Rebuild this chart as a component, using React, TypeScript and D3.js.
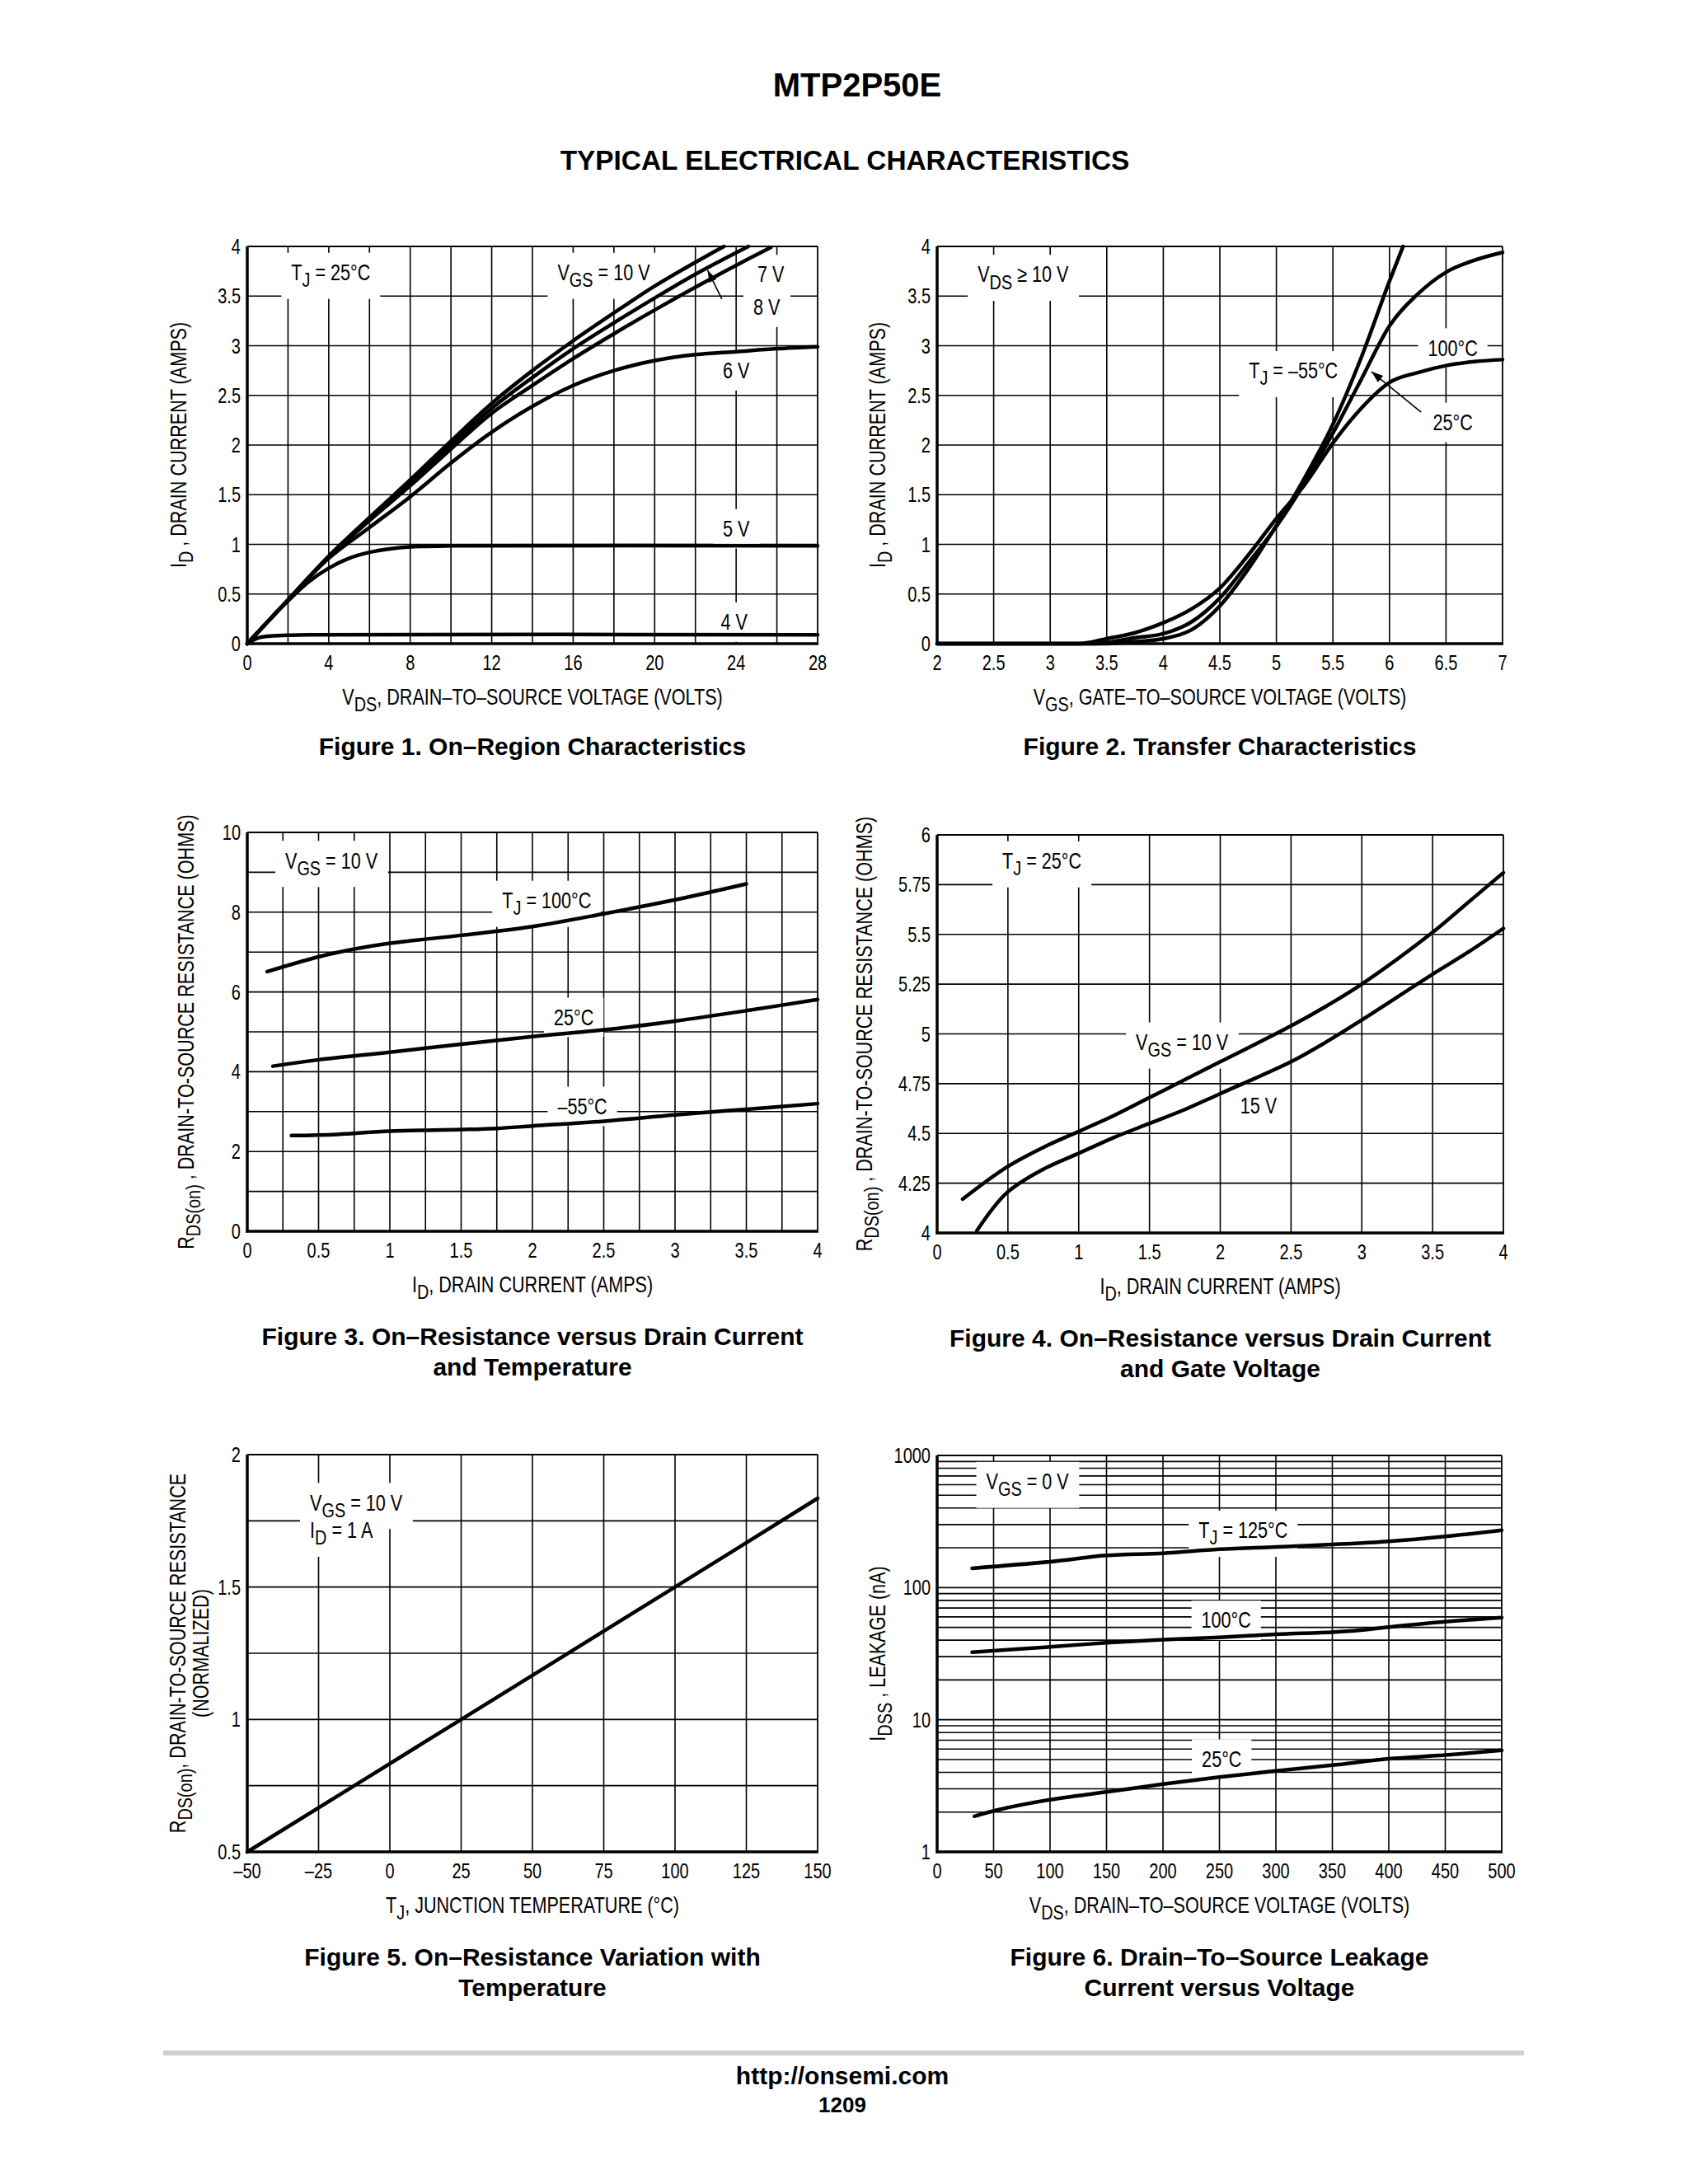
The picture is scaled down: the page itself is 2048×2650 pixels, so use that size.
import React, { useLayoutEffect, useRef, useState } from 'react';
import * as d3 from 'd3';

type Pt = [number, number];

const SANS = "'Liberation Sans', Arial, Helvetica, sans-serif";
const SX = 0.8; // squeeze the sans to look like the condensed datasheet face

// ---------- Figure 1: on-region characteristics
const f1XTicks = [0, 4, 8, 12, 16, 20, 24, 28];
const f1YTicks = [0, 0.5, 1, 1.5, 2, 2.5, 3, 3.5, 4];
const f1Vgs10: Pt[] = [[0, 0], [2, 0.44], [4, 0.88], [6, 1.27], [8, 1.65], [10, 2.04], [12, 2.42], [14, 2.75], [16, 3.05], [18, 3.33], [20, 3.6], [22, 3.84], [23.4, 4.0]];
const f1Vgs8: Pt[] = [[0, 0], [2, 0.44], [4, 0.88], [6, 1.26], [8, 1.62], [10, 2.0], [12, 2.37], [14, 2.68], [16, 2.97], [18, 3.23], [20, 3.48], [22, 3.72], [24.6, 4.0]];
const f1Vgs7: Pt[] = [[0, 0], [2, 0.44], [4, 0.87], [6, 1.24], [8, 1.59], [10, 1.96], [12, 2.32], [14, 2.6], [16, 2.87], [18, 3.12], [20, 3.36], [22, 3.59], [24, 3.81], [25.7, 3.99]];
const f1Vgs6: Pt[] = [[0, 0], [2, 0.44], [4, 0.86], [6, 1.17], [8, 1.48], [10, 1.82], [12, 2.13], [14, 2.39], [16, 2.6], [18, 2.75], [20, 2.85], [22, 2.91], [24, 2.94], [26, 2.97], [28, 2.99]];
const f1Vgs5: Pt[] = [[0, 0], [1, 0.22], [2, 0.43], [3, 0.62], [4, 0.76], [5, 0.86], [6, 0.92], [7, 0.955], [8, 0.975], [10, 0.985], [28, 0.985]];
const f1Vgs4: Pt[] = [[0, 0], [0.5, 0.055], [1, 0.075], [2, 0.085], [3, 0.09], [28, 0.09]];

// ---------- Figure 2: transfer characteristics
const f2XTicks = [2, 2.5, 3, 3.5, 4, 4.5, 5, 5.5, 6, 6.5, 7];
const f2YTicks = [0, 0.5, 1, 1.5, 2, 2.5, 3, 3.5, 4];
const f2Tm55: Pt[] = [[2, 0], [3.5, 0], [3.75, 0.02], [4, 0.05], [4.25, 0.14], [4.5, 0.38], [4.75, 0.75], [5, 1.19], [5.25, 1.67], [5.5, 2.21], [5.75, 2.88], [6, 3.65], [6.12, 4.0]];
const f2T25: Pt[] = [[2, 0], [3.4, 0], [3.75, 0.06], [4, 0.1], [4.25, 0.22], [4.5, 0.46], [4.75, 0.81], [5, 1.18], [5.25, 1.62], [5.5, 2.12], [5.75, 2.66], [6, 3.2], [6.25, 3.52], [6.5, 3.74], [6.75, 3.86], [7, 3.94]];
const f2T100: Pt[] = [[2, 0], [3.25, 0], [3.5, 0.05], [3.75, 0.11], [4, 0.21], [4.25, 0.35], [4.5, 0.56], [4.75, 0.89], [5, 1.26], [5.25, 1.6], [5.5, 2.02], [5.75, 2.37], [6, 2.63], [6.25, 2.73], [6.5, 2.8], [6.75, 2.84], [7, 2.86]];

// ---------- Figure 3: on-resistance vs drain current and temperature
const f3XTicks = [0, 0.5, 1, 1.5, 2, 2.5, 3, 3.5, 4];
const f3YTicks = [0, 2, 4, 6, 8, 10];
const f3T100: Pt[] = [[0.14, 6.51], [0.5, 6.88], [0.76, 7.08], [1, 7.22], [1.5, 7.42], [2, 7.64], [2.5, 7.96], [3, 8.31], [3.5, 8.71]];
const f3T25: Pt[] = [[0.18, 4.14], [0.5, 4.3], [1, 4.49], [1.5, 4.69], [2, 4.88], [2.5, 5.05], [3, 5.27], [3.5, 5.53], [4, 5.81]];
const f3Tm55: Pt[] = [[0.31, 2.4], [0.63, 2.43], [1, 2.51], [1.5, 2.55], [1.75, 2.58], [2, 2.64], [2.5, 2.76], [3, 2.92], [3.5, 3.06], [4, 3.2]];

// ---------- Figure 4: on-resistance vs drain current and gate voltage
const f4XTicks = [0, 0.5, 1, 1.5, 2, 2.5, 3, 3.5, 4];
const f4YTicks = [4, 4.25, 4.5, 4.75, 5, 5.25, 5.5, 5.75, 6];
const f4V10: Pt[] = [[0.18, 4.17], [0.49, 4.33], [0.75, 4.43], [1, 4.51], [1.25, 4.59], [1.5, 4.68], [1.75, 4.77], [2, 4.86], [2.5, 5.04], [2.75, 5.14], [3, 5.25], [3.5, 5.51], [3.75, 5.66], [4, 5.81]];
const f4V15: Pt[] = [[0.28, 4.01], [0.49, 4.2], [0.75, 4.32], [1, 4.4], [1.25, 4.48], [1.5, 4.55], [1.75, 4.62], [2, 4.7], [2.5, 4.86], [2.75, 4.96], [3, 5.07], [3.5, 5.3], [3.75, 5.41], [4, 5.53]];

// ---------- Figure 5: on-resistance vs temperature
const f5XTicks = [-50, -25, 0, 25, 50, 75, 100, 125, 150];
const f5XLabels = ['–50', '–25', '0', '25', '50', '75', '100', '125', '150'];
const f5YTicks = [0.5, 1, 1.5, 2];
const f5YGrid = [0.75, 1, 1.25, 1.5, 1.75];
const f5Line: Pt[] = [[-50, 0.5], [25, 1.0], [100, 1.5], [150, 1.835]];

// ---------- Figure 6: drain-to-source leakage
const f6XTicks = [0, 50, 100, 150, 200, 250, 300, 350, 400, 450, 500];
const f6YTicks = [1, 10, 100, 1000];
const f6T125: Pt[] = [[31, 140], [100, 157], [150, 175], [200, 182], [250, 195], [300, 203], [350, 212], [400, 224], [450, 244], [500, 272]];
const f6T100: Pt[] = [[31, 32.4], [100, 35.6], [150, 38.2], [200, 40.4], [250, 42], [300, 44.3], [350, 46], [375, 47.6], [400, 50.3], [450, 55.2], [500, 59.3]];
const f6T25: Pt[] = [[33, 1.86], [54, 2.08], [100, 2.48], [150, 2.84], [200, 3.26], [250, 3.68], [300, 4.1], [350, 4.53], [400, 5.06], [450, 5.4], [500, 5.87]];

interface Box { x0: number; x1: number; y0: number; y1: number }
interface NoteSpec { text: string; x: number; y: number; anchor?: 'start' | 'middle' | 'end' }
interface ArrowSpec { from: Pt; to: Pt }

// text with _{sub} subscripts
function Rich({ s, fs }: { s: string; fs: number }) {
  const parts = s.split(/_\{([^}]*)\}/);
  const out: React.ReactNode[] = [];
  let shifted = false;
  parts.forEach((t, i) => {
    if (!t) return;
    if (i % 2 === 1) {
      out.push(<tspan key={i} dy={fs * 0.3} fontSize={fs * 0.92}>{t}</tspan>);
      shifted = true;
    } else {
      out.push(<tspan key={i} dy={shifted ? -fs * 0.3 : 0}>{t}</tspan>);
      shifted = false;
    }
  });
  return <>{out}</>;
}

// bg=true draws only the white box behind the label (measured from hidden text)
function Note({ px, py, text, anchor = 'middle', fs = 27, bg }: { px: number; py: number; text: string; anchor?: string; fs?: number; bg?: boolean }) {
  const ref = useRef<SVGTextElement>(null);
  const [bb, setBb] = useState<{ x: number; y: number; w: number; h: number } | null>(null);
  useLayoutEffect(() => {
    if (bg && ref.current) {
      const b = ref.current.getBBox();
      setBb({ x: b.x, y: b.y, w: b.width, h: b.height });
    }
  }, [text, bg]);
  const padX = 12 / SX;
  const padY = 9;
  return (
    <g transform={`translate(${px},${py}) scale(${SX},1)`}>
      {bg && bb && <rect x={bb.x - padX} y={bb.y - padY} width={bb.w + 2 * padX} height={bb.h + 2 * padY} fill="#fff" />}
      <text ref={ref} y={fs * 0.36} textAnchor={anchor as any} fontSize={fs} fontFamily={SANS} fill="#000" visibility={bg ? 'hidden' : 'visible'}>
        <Rich s={text} fs={fs} />
      </text>
    </g>
  );
}

function NText({ x, y, text, fs, anchor = 'middle', rotate = 0 }: { x: number; y: number; text: string; fs: number; anchor?: string; rotate?: number }) {
  return (
    <g transform={`translate(${x},${y}) rotate(${rotate}) scale(${SX},1)`}>
      <text y={fs * 0.36} textAnchor={anchor as any} fontSize={fs} fontFamily={SANS} fill="#000">
        <Rich s={text} fs={fs} />
      </text>
    </g>
  );
}

interface ChartProps {
  box: Box;
  xDomain: [number, number];
  yDomain: [number, number];
  logY?: boolean;
  monotone?: boolean;
  xGrid: number[];
  yGrid: number[];
  xTicks: number[];
  xLabels?: string[];
  yTicks: number[];
  yLabels?: string[];
  series: Pt[][];
  notes: NoteSpec[];
  arrows?: ArrowSpec[];
  xTitle: string;
  yTitle: string[];
  yTitleX: number[];
  caption: string[];
}

function Chart(p: ChartProps) {
  const { box } = p;
  const x = d3.scaleLinear().domain(p.xDomain).range([box.x0, box.x1]);
  const y: any = (p.logY ? d3.scaleLog() : d3.scaleLinear()).domain(p.yDomain).range([box.y1, box.y0]);
  const line = d3.line<Pt>()
    .x(d => x(d[0]))
    .y(d => y(d[1]))
    .curve(p.monotone ? d3.curveMonotoneX : d3.curveCatmullRom.alpha(0.5));
  const cx = (box.x0 + box.x1) / 2;
  const cy = (box.y0 + box.y1) / 2;
  const tickFs = 25;
  const capY = box.y1 + 125 + (p.caption.length > 1 ? 3 : 0);
  return (
    <g>
      {/* grid */}
      {p.xGrid.map(v => (
        <line key={'gx' + v} x1={x(v)} x2={x(v)} y1={box.y0} y2={box.y1} stroke="#000" strokeWidth={1.6} />
      ))}
      {p.yGrid.map(v => (
        <line key={'gy' + v} x1={box.x0} x2={box.x1} y1={y(v)} y2={y(v)} stroke="#000" strokeWidth={1.6} />
      ))}
      {/* white boxes that break the grid behind labels */}
      {p.notes.map((n, i) => (
        <Note key={'nb' + i} px={x(n.x)} py={y(n.y)} text={n.text} anchor={n.anchor} bg />
      ))}
      {p.notes.map((n, i) => (
        <Note key={'n' + i} px={x(n.x)} py={y(n.y)} text={n.text} anchor={n.anchor} />
      ))}
      {/* curves */}
      {p.series.map((s, i) => (
        <path key={'s' + i} d={line(s) || ''} fill="none" stroke="#000" strokeWidth={4.5} strokeLinecap="round" strokeLinejoin="round" />
      ))}
      {(p.arrows || []).map((a, i) => (
        <line key={'a' + i} x1={x(a.from[0])} y1={y(a.from[1])} x2={x(a.to[0])} y2={y(a.to[1])} stroke="#000" strokeWidth={1.6} markerEnd="url(#arr)" />
      ))}
      {/* frame: heavy left/bottom, light top/right */}
      <line x1={box.x0} x2={box.x1} y1={box.y0} y2={box.y0} stroke="#000" strokeWidth={1.8} />
      <line x1={box.x1} x2={box.x1} y1={box.y0} y2={box.y1} stroke="#000" strokeWidth={1.8} />
      <line x1={box.x0} x2={box.x0} y1={box.y0} y2={box.y1 + 1.5} stroke="#000" strokeWidth={3.5} />
      <line x1={box.x0 - 1.5} x2={box.x1 + 1} y1={box.y1} y2={box.y1} stroke="#000" strokeWidth={3.5} />
      {/* tick labels */}
      {p.xTicks.map((v, i) => (
        <NText key={'tx' + v} x={x(v)} y={box.y1 + 23} text={p.xLabels ? p.xLabels[i] : String(v)} fs={tickFs} />
      ))}
      {p.yTicks.map((v, i) => (
        <NText key={'ty' + v} x={box.x0 - 8} y={y(v)} text={p.yLabels ? p.yLabels[i] : String(v)} fs={tickFs} anchor="end" />
      ))}
      {/* axis titles */}
      <NText x={cx} y={box.y1 + 64} text={p.xTitle} fs={27} />
      {p.yTitle.map((t, i) => (
        <NText key={'yt' + i} x={p.yTitleX[i]} y={cy} text={t} fs={27} rotate={-90} />
      ))}
      {/* caption */}
      {p.caption.map((c, i) => (
        <text key={'c' + i} x={cx} y={capY + i * 37 + 10} textAnchor="middle" fontSize={30} fontWeight="bold" fontFamily={SANS}>
          {c}
        </text>
      ))}
    </g>
  );
}

export default function App() {
  const B1: Box = { x0: 300, x1: 992, y0: 299, y1: 781 };
  const B2: Box = { x0: 1137, x1: 1823, y0: 299, y1: 781 };
  const B3: Box = { x0: 300, x1: 992, y0: 1010, y1: 1494 };
  const B4: Box = { x0: 1137, x1: 1824, y0: 1013, y1: 1496 };
  const B5: Box = { x0: 300, x1: 992, y0: 1765, y1: 2247 };
  const B6: Box = { x0: 1137, x1: 1822, y0: 1766, y1: 2247 };
  const logY6 = d3.scaleLog().domain([1, 1000]);

  return (
    <svg width={2048} height={2650} style={{ position: 'absolute', left: 0, top: 0, background: '#fff' }}>
      <defs>
        <marker id="arr" viewBox="0 0 10 10" refX="10" refY="5" markerWidth="9" markerHeight="9" orient="auto">
          <path d="M0,1.5 L10,5 L0,8.5 z" fill="#000" />
        </marker>
      </defs>
      <rect width={2048} height={2650} fill="#fff" />

      <text x={1040} y={117} textAnchor="middle" fontSize={40} fontWeight="bold" fontFamily={SANS}>MTP2P50E</text>
      <text x={1025} y={206} textAnchor="middle" fontSize={33.4} fontWeight="bold" fontFamily={SANS}>TYPICAL ELECTRICAL CHARACTERISTICS</text>

      <Chart
        box={B1}
        xDomain={[0, 28]}
        yDomain={[0, 4]}
        xGrid={d3.range(2, 28, 2)}
        yGrid={d3.range(0.5, 4, 0.5)}
        xTicks={f1XTicks}
        yTicks={f1YTicks}
        series={[f1Vgs10, f1Vgs8, f1Vgs7, f1Vgs6, f1Vgs5, f1Vgs4]}
        notes={[
          { text: 'T_{J} = 25°C', x: 4.1, y: 3.74 },
          { text: 'V_{GS} = 10 V', x: 17.5, y: 3.74 },
          { text: '7 V', x: 25.7, y: 3.72 },
          { text: '8 V', x: 25.5, y: 3.39 },
          { text: '6 V', x: 24, y: 2.75 },
          { text: '5 V', x: 24, y: 1.16 },
          { text: '4 V', x: 23.9, y: 0.22 },
        ]}
        arrows={[{ from: [23.3, 3.47], to: [22.6, 3.76] }]}
        xTitle="V_{DS}, DRAIN–TO–SOURCE VOLTAGE (VOLTS)"
        yTitle={['I_{D} , DRAIN CURRENT (AMPS)']}
        yTitleX={[216]}
        caption={['Figure 1. On–Region Characteristics']}
      />

      <Chart
        box={B2}
        xDomain={[2, 7]}
        yDomain={[0, 4]}
        monotone
        xGrid={d3.range(2.5, 7, 0.5)}
        yGrid={d3.range(0.5, 4, 0.5)}
        xTicks={f2XTicks}
        yTicks={f2YTicks}
        series={[f2Tm55, f2T25, f2T100]}
        notes={[
          { text: 'V_{DS} ≥ 10 V', x: 2.76, y: 3.72 },
          { text: 'T_{J} =  –55°C', x: 5.15, y: 2.75 },
          { text: '100°C', x: 6.56, y: 2.98 },
          { text: '25°C', x: 6.56, y: 2.23 },
        ]}
        arrows={[{ from: [6.28, 2.33], to: [5.84, 2.74] }]}
        xTitle="V_{GS}, GATE–TO–SOURCE VOLTAGE (VOLTS)"
        yTitle={['I_{D} , DRAIN CURRENT (AMPS)']}
        yTitleX={[1064]}
        caption={['Figure 2. Transfer Characteristics']}
      />

      <Chart
        box={B3}
        xDomain={[0, 4]}
        yDomain={[0, 10]}
        xGrid={d3.range(0.25, 4, 0.25)}
        yGrid={d3.range(1, 10, 1)}
        xTicks={f3XTicks}
        yTicks={f3YTicks}
        series={[f3T100, f3T25, f3Tm55]}
        notes={[
          { text: 'V_{GS} = 10 V', x: 0.59, y: 9.3 },
          { text: 'T_{J} = 100°C', x: 2.1, y: 8.3 },
          { text: '25°C', x: 2.29, y: 5.37 },
          { text: '–55°C', x: 2.35, y: 3.14 },
        ]}
        xTitle="I_{D}, DRAIN CURRENT (AMPS)"
        yTitle={['R_{DS(on)} , DRAIN-TO-SOURCE RESISTANCE (OHMS)']}
        yTitleX={[225]}
        caption={['Figure 3. On–Resistance versus Drain Current', 'and Temperature']}
      />

      <Chart
        box={B4}
        xDomain={[0, 4]}
        yDomain={[4, 6]}
        xGrid={d3.range(0.5, 4, 0.5)}
        yGrid={d3.range(4.25, 6, 0.25)}
        xTicks={f4XTicks}
        yTicks={f4YTicks}
        series={[f4V10, f4V15]}
        notes={[
          { text: 'T_{J} = 25°C', x: 0.74, y: 5.87 },
          { text: 'V_{GS} = 10 V', x: 1.73, y: 4.96 },
          { text: '15 V', x: 2.27, y: 4.64 },
        ]}
        xTitle="I_{D}, DRAIN CURRENT (AMPS)"
        yTitle={['R_{DS(on)} , DRAIN-TO-SOURCE RESISTANCE (OHMS)']}
        yTitleX={[1048]}
        caption={['Figure 4. On–Resistance versus Drain Current', 'and Gate Voltage']}
      />

      <Chart
        box={B5}
        xDomain={[-50, 150]}
        yDomain={[0.5, 2]}
        xGrid={d3.range(-25, 150, 25)}
        yGrid={f5YGrid}
        xTicks={f5XTicks}
        xLabels={f5XLabels}
        yTicks={f5YTicks}
        series={[f5Line]}
        notes={[
          { text: 'V_{GS} = 10 V', x: -28, y: 1.82, anchor: 'start' },
          { text: 'I_{D} = 1 A', x: -28, y: 1.715, anchor: 'start' },
        ]}
        xTitle="T_{J}, JUNCTION TEMPERATURE (°C)"
        yTitle={['R_{DS(on)}, DRAIN-TO-SOURCE RESISTANCE', '(NORMALIZED)']}
        yTitleX={[215, 243]}
        caption={['Figure 5. On–Resistance Variation with', 'Temperature']}
      />

      <Chart
        box={B6}
        xDomain={[0, 500]}
        yDomain={[1, 1000]}
        logY
        xGrid={d3.range(50, 500, 50)}
        yGrid={logY6.ticks().filter(v => v > 1 && v < 1000)}
        xTicks={f6XTicks}
        yTicks={f6YTicks}
        series={[f6T125, f6T100, f6T25]}
        notes={[
          { text: 'V_{GS} = 0 V', x: 80, y: 637 },
          { text: 'T_{J} = 125°C', x: 271, y: 272 },
          { text: '100°C', x: 256, y: 56.8 },
          { text: '25°C', x: 252, y: 5.06 },
        ]}
        xTitle="V_{DS}, DRAIN–TO–SOURCE VOLTAGE (VOLTS)"
        yTitle={['I_{DSS} , LEAKAGE (nA)']}
        yTitleX={[1064]}
        caption={['Figure 6. Drain–To–Source Leakage', 'Current versus Voltage']}
      />

      <line x1={198} x2={1849} y1={2491} y2={2491} stroke="#cfcfcf" strokeWidth={6} />
      <text x={1022} y={2529} textAnchor="middle" fontSize={30} fontWeight="bold" fontFamily={SANS}>http://onsemi.com</text>
      <text x={1022} y={2563} textAnchor="middle" fontSize={26} fontWeight="bold" fontFamily={SANS}>1209</text>
    </svg>
  );
}
